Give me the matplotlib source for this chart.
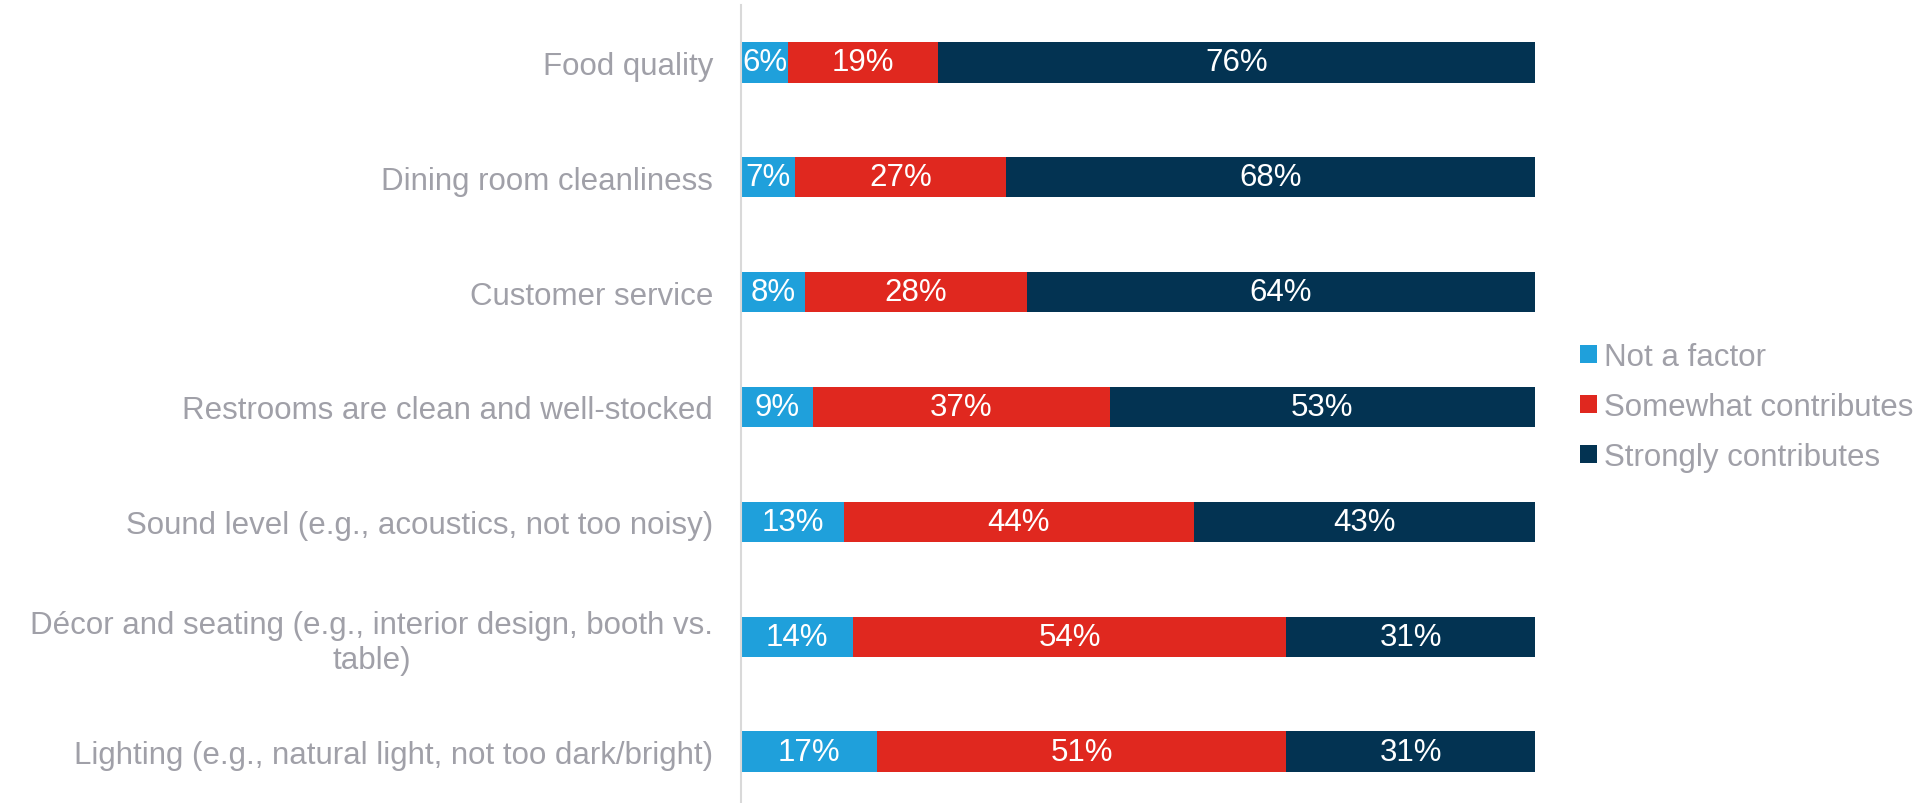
import matplotlib
matplotlib.use("Agg")
import matplotlib.pyplot as plt
import numpy as np

plt.rcParams['font.family'] = ['Liberation Sans', 'DejaVu Sans']

categories = [
    "Food quality",
    "Dining room cleanliness",
    "Customer service",
    "Restrooms are clean and well-stocked",
    "Sound level (e.g., acoustics, not too noisy)",
    "Décor and seating (e.g., interior design, booth vs.\ntable)",
    "Lighting (e.g., natural light, not too dark/bright)",
]
series_names = ["Not a factor", "Somewhat contributes", "Strongly contributes"]
not_a_factor = [6, 7, 8, 9, 13, 14, 17]
somewhat = [19, 27, 28, 37, 44, 54, 51]
strongly = [76, 68, 64, 53, 43, 31, 31]
colors = ["#1FA0DB", "#E0281F", "#033352"]

TEXT_GREY = "#A0A0A8"
FS = 22.5

fig = plt.figure(figsize=(19.21, 8.04), dpi=100)
ax = fig.add_axes([741 / 1921, -6 / 804, (1535 - 741) / 1921, 804 / 804])

series = np.array([not_a_factor, somewhat, strongly], dtype=float)
totals = series.sum(axis=0)
shares = series / totals * 100  # 100% stacked
y = np.arange(len(categories))

left = np.zeros(len(categories))
containers = []
for vals, raw, name, col in zip(shares, series, series_names, colors):
    bars = ax.barh(y, vals, left=left, height=0.35, color=col, label=name)
    ax.bar_label(bars, labels=[f"{int(v)}%" for v in raw], label_type="center",
                 color="white", fontsize=FS)
    containers.append(bars)
    left += vals

ax.set_xlim(0, 100)
ax.set_ylim(len(categories) - 0.5, -0.5)
ax.set_yticks(y)
ax.set_yticklabels(categories, fontsize=FS, color=TEXT_GREY)
for lbl in ax.get_yticklabels():
    lbl.set_multialignment("center")
ax.tick_params(axis="y", length=0, pad=20)
ax.set_xticks([])
for side in ["top", "right", "bottom"]:
    ax.spines[side].set_visible(False)
ax.spines["left"].set_color("#D9D9D9")
ax.spines["left"].set_linewidth(1.5)

fig.legend(handles=containers, labels=series_names, loc="center left",
           bbox_to_anchor=(1580 / 1921, 1 - 408 / 804), frameon=False,
           borderpad=0, borderaxespad=0, handlelength=0.55, handleheight=0.55,
           handletextpad=0.22, labelspacing=0.64, fontsize=FS, labelcolor=TEXT_GREY)

fig.savefig("out.png", dpi=100)
